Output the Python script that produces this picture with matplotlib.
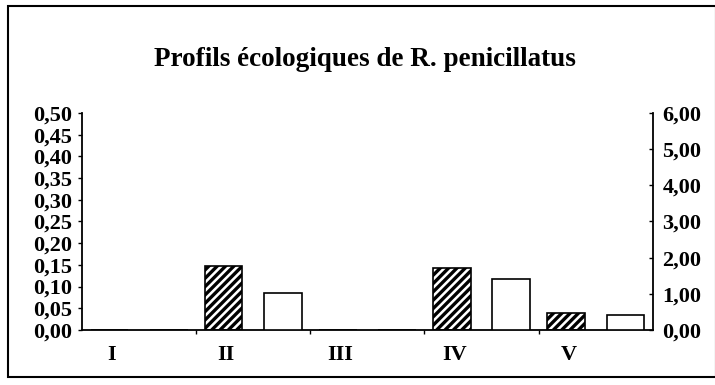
import numpy as np
import matplotlib
matplotlib.use("Agg")
import matplotlib.pyplot as plt
from matplotlib.ticker import FuncFormatter, FixedLocator
from matplotlib.patches import Rectangle

# Données
categories = ["I", "II", "III", "IV", "V"]
profil_gauche = [0.0, 0.148, 0.0, 0.143, 0.040]   # barres hachurées (axe gauche)
profil_droit = [0.0, 1.02, 0.0, 1.41, 0.41]       # barres blanches (axe droit)
ticks_gauche = [0.00, 0.05, 0.10, 0.15, 0.20, 0.25, 0.30, 0.35, 0.40, 0.45, 0.50]
ticks_droit = [0, 1, 2, 3, 4, 5, 6]

plt.rcParams["font.family"] = ["Liberation Serif", "DejaVu Serif"]
plt.rcParams["font.weight"] = "bold"
plt.rcParams["hatch.linewidth"] = 2.4

fig = plt.figure(figsize=(7.15, 3.85), dpi=100)
ax = fig.add_axes([0.1147, 0.1429, 0.7983, 0.5636])
ax2 = ax.twinx()

x = np.arange(len(categories))
width = 0.33

ax.bar(x - 0.26, profil_gauche, width, facecolor="white", edgecolor="black",
       hatch="////", linewidth=1.2)
ax2.bar(x + 0.26, profil_droit, width, facecolor="white", edgecolor="black",
        linewidth=1.2)

ax.set_xlim(-0.5, len(categories) - 0.5)
ax.set_ylim(0, 0.5)
ax2.set_ylim(0, 6)

ax.set_yticks(ticks_gauche)
ax2.set_yticks(ticks_droit)
ax.yaxis.set_major_formatter(FuncFormatter(lambda v, p: f"{v:.2f}".replace(".", ",")))
ax2.yaxis.set_major_formatter(FuncFormatter(lambda v, p: f"{v:.2f}".replace(".", ",")))

ax.set_xticks(x - 0.24)
ax.set_xticklabels(categories)
ax.xaxis.set_minor_locator(FixedLocator(np.arange(0.5, len(categories) - 0.5, 1)))
ax.tick_params(axis="x", which="major", length=0, pad=11, labelsize=16)
ax.tick_params(axis="x", which="minor", length=3, direction="out", width=1)
ax.tick_params(axis="y", length=3, direction="out", width=1, pad=4, labelsize=16)
ax2.tick_params(axis="y", length=3, direction="in", width=1, pad=7, labelsize=16)

for a in (ax, ax2):
    a.spines["top"].set_visible(False)
    for s in ("left", "right", "bottom"):
        a.spines[s].set_linewidth(1.3)
ax.spines["right"].set_visible(False)
ax2.spines["left"].set_visible(False)
ax2.spines["bottom"].set_visible(False)

fig.text(0.51, 0.845, "Profils écologiques de R. penicillatus", ha="center",
         va="center", fontsize=19.5, fontweight="bold")

# cadre extérieur
fig.patches.append(Rectangle((0.011, 0.02), 0.99, 0.965, transform=fig.transFigure,
                             fill=False, edgecolor="black", linewidth=1.5))

fig.savefig("out.png", dpi=100)
